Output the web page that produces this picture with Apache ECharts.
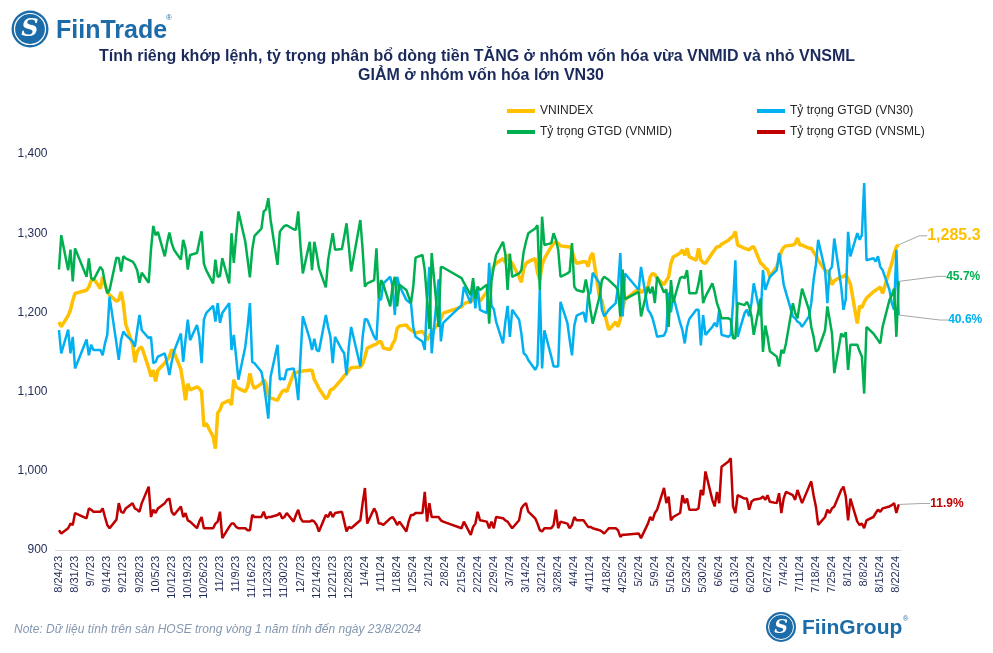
<!DOCTYPE html>
<html>
<head>
<meta charset="utf-8">
<script src="https://cdn.jsdelivr.net/npm/echarts@6/dist/echarts.min.js"></script>
<style>
html,body{margin:0;padding:0;background:#fff;}
#chart{width:993px;height:653px;}
</style>
</head>
<body>
<div id="chart"></div>
<script>
// ---- trading days (categories) ----
const dates = [
'2023-08-24','2023-08-25','2023-08-28','2023-08-29','2023-08-30','2023-08-31',
'2023-09-05','2023-09-06','2023-09-07','2023-09-08','2023-09-11','2023-09-12','2023-09-13','2023-09-14','2023-09-15','2023-09-18','2023-09-19','2023-09-20','2023-09-21','2023-09-22','2023-09-25','2023-09-26','2023-09-27','2023-09-28','2023-09-29',
'2023-10-02','2023-10-03','2023-10-04','2023-10-05','2023-10-06','2023-10-09','2023-10-10','2023-10-11','2023-10-12','2023-10-13','2023-10-16','2023-10-17','2023-10-18','2023-10-19','2023-10-20','2023-10-23','2023-10-24','2023-10-25','2023-10-26','2023-10-27','2023-10-30','2023-10-31',
'2023-11-01','2023-11-02','2023-11-03','2023-11-06','2023-11-07','2023-11-08','2023-11-09','2023-11-10','2023-11-13','2023-11-14','2023-11-15','2023-11-16','2023-11-17','2023-11-20','2023-11-21','2023-11-22','2023-11-23','2023-11-24','2023-11-27','2023-11-28','2023-11-29','2023-11-30',
'2023-12-01','2023-12-04','2023-12-05','2023-12-06','2023-12-07','2023-12-08','2023-12-11','2023-12-12','2023-12-13','2023-12-14','2023-12-15','2023-12-18','2023-12-19','2023-12-20','2023-12-21','2023-12-22','2023-12-25','2023-12-26','2023-12-27','2023-12-28','2023-12-29',
'2024-01-02','2024-01-03','2024-01-04','2024-01-05','2024-01-08','2024-01-09','2024-01-10','2024-01-11','2024-01-12','2024-01-15','2024-01-16','2024-01-17','2024-01-18','2024-01-19','2024-01-22','2024-01-23','2024-01-24','2024-01-25','2024-01-26','2024-01-29','2024-01-30','2024-01-31',
'2024-02-01','2024-02-02','2024-02-05','2024-02-06','2024-02-07','2024-02-15','2024-02-16','2024-02-19','2024-02-20','2024-02-21','2024-02-22','2024-02-23','2024-02-26','2024-02-27','2024-02-28','2024-02-29',
'2024-03-01','2024-03-04','2024-03-05','2024-03-06','2024-03-07','2024-03-08','2024-03-11','2024-03-12','2024-03-13','2024-03-14','2024-03-15','2024-03-18','2024-03-19','2024-03-20','2024-03-21','2024-03-22','2024-03-25','2024-03-26','2024-03-27','2024-03-28','2024-03-29',
'2024-04-01','2024-04-02','2024-04-03','2024-04-04','2024-04-05','2024-04-08','2024-04-09','2024-04-10','2024-04-11','2024-04-12','2024-04-15','2024-04-16','2024-04-17','2024-04-19','2024-04-22','2024-04-23','2024-04-24','2024-04-25','2024-04-26',
'2024-05-02','2024-05-03','2024-05-06','2024-05-07','2024-05-08','2024-05-09','2024-05-10','2024-05-13','2024-05-14','2024-05-15','2024-05-16','2024-05-17','2024-05-20','2024-05-21','2024-05-22','2024-05-23','2024-05-24','2024-05-27','2024-05-28','2024-05-29','2024-05-30','2024-05-31',
'2024-06-03','2024-06-04','2024-06-05','2024-06-06','2024-06-07','2024-06-10','2024-06-11','2024-06-12','2024-06-13','2024-06-14','2024-06-17','2024-06-18','2024-06-19','2024-06-20','2024-06-21','2024-06-24','2024-06-25','2024-06-26','2024-06-27','2024-06-28',
'2024-07-01','2024-07-02','2024-07-03','2024-07-04','2024-07-05','2024-07-08','2024-07-09','2024-07-10','2024-07-11','2024-07-12','2024-07-15','2024-07-16','2024-07-17','2024-07-18','2024-07-19','2024-07-22','2024-07-23','2024-07-24','2024-07-25','2024-07-26','2024-07-29','2024-07-30','2024-07-31',
'2024-08-01','2024-08-02','2024-08-05','2024-08-06','2024-08-07','2024-08-08','2024-08-09','2024-08-12','2024-08-13','2024-08-14','2024-08-15','2024-08-16','2024-08-19','2024-08-20','2024-08-21','2024-08-22','2024-08-23'
];

// ---- x-axis tick labels ----
const tickLabels = ['8/24/23','8/31/23','9/7/23','9/14/23','9/21/23','9/28/23','10/5/23','10/12/23','10/19/23','10/26/23','11/2/23','11/9/23','11/16/23','11/23/23','11/30/23','12/7/23','12/14/23','12/21/23','12/28/23','1/4/24','1/11/24','1/18/24','1/25/24','2/1/24','2/8/24','2/15/24','2/22/24','2/29/24','3/7/24','3/14/24','3/21/24','3/28/24','4/4/24','4/11/24','4/18/24','4/25/24','5/2/24','5/9/24','5/16/24','5/23/24','5/30/24','6/6/24','6/13/24','6/20/24','6/27/24','7/4/24','7/11/24','7/18/24','7/25/24','8/1/24','8/8/24','8/15/24','8/22/24'];

// ---- y-axis tick labels ----
const yTicks = [900, 1000, 1100, 1200, 1300, 1400];

// ---- series values ----
const vnindex = [
1188,1182,1196,1203,1215,1224,
1228,1232,1240,1243,1230,1245,1236,1226,1222,1214,1216,1226,1211,1185,1160,1137,1150,1155,1156,
1130,1119,1127,1113,1127,1136,1140,1144,1153,1150,1128,1110,1089,1110,1102,1106,1104,1100,1056,1060,1043,1028,
1073,1077,1085,1089,1083,1115,1106,1104,1100,1106,1123,1110,1104,1110,1115,1110,1094,1092,1089,1095,1100,1102,
1100,1123,1124,1125,1125,1126,1127,1127,1115,1110,1104,1091,1094,1102,1103,1106,1116,1120,1123,1127,1130,
1131,1135,1144,1155,1159,1160,1163,1163,1155,1153,1160,1165,1180,1183,1184,1180,1178,1176,1174,1176,1172,1165,
1170,1175,1186,1192,1199,1207,1211,1214,1216,1219,1220,1214,1226,1240,1253,1258,
1262,1268,1263,1273,1265,1262,1245,1238,1255,1262,1264,1268,1250,1241,1260,1268,1283,1287,1289,1287,1284,
1283,1283,1278,1268,1262,1264,1264,1258,1270,1275,1218,1215,1200,1178,1188,1182,1192,1205,1216,
1230,1225,1232,1245,1249,1248,1243,1235,1240,1245,1262,1270,1275,1279,1272,1281,1270,1266,1281,1266,1263,1262,
1275,1279,1283,1283,1286,1291,1294,1296,1302,1285,1281,1280,1279,1282,1283,1262,1260,1256,1254,1245,
1258,1265,1277,1282,1284,1285,1287,1294,1285,1285,1281,1281,1276,1272,1266,1253,1252,1245,1235,1240,1245,1245,1248,
1242,1236,1186,1208,1206,1213,1218,1226,1228,1230,1232,1224,1253,1262,1274,1283,1285.3
];
const vn30 = [
38.3,34.8,38.4,34.8,37.3,32.5,
36.9,34.5,36.1,35.3,35.3,34.5,36.3,37.6,43.4,36.3,33.8,36.8,38.1,37.6,36.6,35.8,38.3,40.6,38.3,
37.1,37.3,33.3,33.5,34.3,34.8,33.3,31.5,33.5,35.1,37.8,33.5,36.8,39.9,36.8,39.1,37.3,33.3,39.9,40.9,42.0,39.6,
42.4,39.4,40.9,42.4,35.3,37.6,34.3,30.8,35.8,38.8,42.4,33.5,33.3,32.0,30.3,27.7,24.9,31.3,36.1,30.8,31.0,30.8,
32.3,32.5,30.8,27.7,34.3,40.4,37.0,35.3,37.0,35.3,35.1,40.6,38.8,37.3,33.3,37.3,35.3,34.8,31.5,35.8,38.8,
32.8,37.3,40.0,39.9,37.3,36.8,43.1,42.9,45.4,46.4,44.9,40.6,46.4,45.0,42.9,42.6,42.4,38.8,37.3,36.6,35.3,42.6,
47.9,34.8,46.0,36.6,39.4,42.1,44.9,42.4,45.2,41.6,44.9,41.4,40.9,48.5,42.0,41.5,
39.6,36.3,39.5,42.0,37.3,41.4,39.9,37.8,34.8,34.5,33.8,32.3,33.0,44.4,32.5,38.3,34.3,32.8,32.8,32.8,42.6,
39.4,36.8,34.5,39.0,40.5,41.0,39.5,43.5,44.0,47.0,45.4,41.4,40.4,41.4,42.4,44.9,50.0,40.4,46.9,
44.4,47.9,41.4,40.9,40.1,38.8,37.3,37.5,38.3,44.0,41.0,43.5,39.4,38.3,36.3,38.8,40.0,41.4,41.4,36.0,40.6,37.6,
38.8,39.4,38.8,41.4,37.6,37.3,37.6,42.4,48.9,37.3,40.9,41.4,40.4,42.4,45.4,40.4,47.4,44.4,45.4,46.4,
47.4,50.0,47.9,45.2,44.0,40.4,40.1,39.6,39.4,38.8,40.4,42.4,45.9,48.2,52.0,47.4,42.4,47.4,47.9,52.2,44.9,41.4,43.0,
53.2,49.5,53.0,52.0,52.7,60.6,48.9,49.2,48.7,49.5,47.9,47.4,44.4,42.4,41.4,50.5,40.6
];
const vnmid = [
47.5,52.7,47.4,50.5,45.7,50.7,
46.4,49.2,46.2,45.9,47.9,47.4,45.4,43.9,44.4,49.3,49.2,47.2,49.5,49.2,48.7,48.2,47.4,45.5,47.0,
45.5,50.5,54.1,52.7,53.2,49.5,51.5,53.1,51.5,50.5,49.0,52.0,50.7,47.5,49.7,50.0,51.7,53.3,48.4,47.4,45.4,49.0,
46.4,46.5,49.2,45.4,53.0,48.5,52.5,56.3,51.7,49.0,46.3,50.5,52.6,53.7,56.3,56.6,58.3,55.0,48.2,53.2,53.7,54.1,
54.2,53.6,53.5,56.3,51.0,46.9,51.7,47.4,51.7,49.9,47.7,44.8,48.9,51.0,53.0,50.5,50.6,52.5,54.5,51.0,47.2,
55.0,50.5,44.9,45.4,45.9,50.7,43.1,45.9,45.2,41.9,45.0,46.4,41.9,45.2,44.4,43.4,42.4,44.9,49.3,49.7,47.4,42.9,
38.5,50.0,38.8,47.9,47.8,46.2,45.5,43.6,46.2,43.1,44.9,44.4,45.2,39.3,45.7,47.9,
49.7,51.7,49.9,44.4,49.9,46.4,46.9,47.4,50.2,51.7,53.0,53.7,54.2,44.4,55.5,51.2,51.5,53.0,52.0,50.5,46.4,
46.9,47.2,51.5,44.9,44.4,44.1,46.0,44.1,41.4,39.3,43.4,45.9,46.4,45.9,44.9,44.4,40.4,47.5,43.0,
44.1,40.4,44.9,43.9,44.9,42.4,46.4,44.0,44.5,38.8,45.9,42.5,46.2,46.4,46.2,47.4,43.9,43.9,45.4,47.4,42.4,43.4,
45.4,44.1,42.4,41.4,40.1,40.1,39.9,37.1,37.1,42.4,42.1,42.6,41.9,40.4,37.6,43.1,35.0,39.0,37.3,35.1,
34.3,32.8,35.3,34.8,36.3,42.4,40.9,40.1,42.4,44.6,41.4,38.8,37.3,35.1,35.3,38.3,41.9,39.9,37.8,31.8,37.8,37.3,38.0,
32.3,36.1,36.1,35.1,34.3,28.7,38.8,37.8,37.3,36.8,36.3,38.8,42.9,43.6,44.6,37.3,45.7
];
const vnsml = [
8.0,7.5,8.3,9.0,8.8,10.6,
9.8,11.3,11.1,10.8,10.8,11.3,10.0,8.8,8.3,9.6,12.1,10.8,10.6,11.3,12.1,11.3,11.1,10.8,12.1,
14.6,10.0,11.1,10.6,11.3,12.1,12.6,12.8,10.8,10.3,11.6,10.0,10.6,9.5,9.3,8.3,9.3,10.0,8.3,8.3,8.3,9.0,
9.3,10.8,6.8,8.5,9.0,9.0,8.5,8.3,8.3,8.0,8.0,10.3,10.0,10.0,10.8,9.8,10.0,10.0,10.3,10.6,9.8,10.0,
10.6,9.3,10.3,11.1,9.8,9.3,9.3,9.5,9.3,8.8,7.8,10.3,10.0,10.8,10.0,10.6,10.8,9.3,7.8,8.5,8.3,
9.5,12.1,14.4,9.0,11.3,10.6,9.0,9.0,8.8,9.8,10.0,9.5,8.8,9.3,7.8,9.3,10.3,10.3,10.6,10.6,13.8,9.3,
12.1,10.0,10.0,9.5,9.3,8.3,9.3,7.3,8.5,9.0,10.8,9.5,9.3,8.3,9.3,8.3,
10.0,9.8,9.5,9.3,8.8,8.3,9.5,11.3,11.8,12.1,10.8,9.8,9.0,8.0,7.8,8.3,8.3,8.8,11.1,8.3,9.3,
9.0,8.3,8.8,10.0,9.5,9.5,9.0,8.5,8.5,8.3,8.0,7.8,7.5,8.3,8.3,8.0,7.0,7.3,7.3,
7.5,6.8,9.0,10.0,9.5,10.6,11.1,14.4,12.1,13.1,9.5,10.0,10.6,13.3,12.1,12.8,11.1,11.1,11.3,14.1,13.3,16.9,
12.6,11.6,13.8,12.1,17.6,18.4,18.9,11.6,10.6,13.3,12.8,12.8,11.1,12.3,12.6,12.8,13.1,12.6,13.3,12.3,
12.1,13.6,10.6,12.8,13.8,13.3,12.6,14.1,13.1,12.1,14.6,15.4,13.3,11.6,8.8,10.0,11.1,10.6,11.3,11.6,14.1,14.6,13.1,
9.5,12.8,9.3,8.8,9.0,8.3,9.5,10.0,10.6,11.1,10.8,11.3,11.6,11.8,12.1,10.6,11.9
];

const seriesNames = ['VNINDEX', 'Tỷ trọng GTGD (VN30)', 'Tỷ trọng GTGD (VNMID)', 'Tỷ trọng GTGD (VNSML)'];
const colors = ['#FFC000', '#00B0F0', '#00B050', '#C00000'];

// ---- helpers ----
const DAY = 86400000;
const BASE = Date.UTC(2023, 7, 24);
function isoToDay(s) { const p = s.split('-').map(Number); return Math.round((Date.UTC(p[0], p[1] - 1, p[2]) - BASE) / DAY); }
function mdyToDay(s) { const p = s.split('/').map(Number); return Math.round((Date.UTC(2000 + p[2], p[0] - 1, p[1]) - BASE) / DAY); }
const xs = dates.map(isoToDay);
const tickPos = tickLabels.map(mdyToDay);
const labelAt = {};
tickPos.forEach((p, i) => { labelAt[p] = tickLabels[i]; });

const FONT = 'Arial, "Liberation Sans", sans-serif';

function build(vals, labelOpt) {
  return vals.map((v, i) => {
    const pt = [xs[i], v];
    if (i === vals.length - 1) {
      return { value: pt, symbol: 'circle', symbolSize: 1, label: Object.assign({ show: true, position: 'right', distance: 0, fontFamily: FONT, fontWeight: 'bold' }, labelOpt), labelLine: { show: true } };
    }
    return pt;
  });
}

function fmtNum(v) { return Number(v).toLocaleString('en-US', { minimumFractionDigits: 1, maximumFractionDigits: 1 }); }

const chart = echarts.init(document.getElementById('chart'), null, { renderer: 'canvas' });

const labelLineStyle = { lineStyle: { color: '#A6A6A6', width: 1 }, length2: 8 };

chart.setOption({
  animation: false,
  backgroundColor: '#ffffff',
  legend: [
    { data: [seriesNames[0], seriesNames[2]], orient: 'vertical', left: 502, top: 100, icon: 'rect', itemWidth: 28, itemHeight: 4, itemGap: 9,
      textStyle: { fontFamily: FONT, fontSize: 12, color: '#262626' } },
    { data: [seriesNames[1], seriesNames[3]], orient: 'vertical', left: 752, top: 100, icon: 'rect', itemWidth: 28, itemHeight: 4, itemGap: 9,
      textStyle: { fontFamily: FONT, fontSize: 12, color: '#262626' } }
  ],
  grid: { left: 55.5, right: 92, top: 154, bottom: 103, containLabel: false },
  xAxis: {
    type: 'value', min: -1.5, max: 366,
    axisLine: { show: true, lineStyle: { color: '#D9D9D9', width: 1 } },
    axisTick: { show: false },
    splitLine: { show: false },
    axisLabel: {
      customValues: tickPos,
      rotate: 90, fontFamily: FONT, fontSize: 11, color: '#1F2A55', margin: 6,
      formatter: v => labelAt[Math.round(v)] || ''
    }
  },
  yAxis: [
    { type: 'value', min: yTicks[0], max: yTicks[yTicks.length - 1], interval: 100,
      axisLine: { show: false }, axisTick: { show: false }, splitLine: { show: false },
      axisLabel: { fontFamily: FONT, fontSize: 12, color: '#1F2A55', margin: 8, formatter: v => Number(v).toLocaleString('en-US') } },
    { type: 'value', min: 5, max: 65, show: false }
  ],
  series: [
    { name: seriesNames[0], type: 'line', yAxisIndex: 0, symbol: 'none', z: 2,
      lineStyle: { color: colors[0], width: 3.5 }, itemStyle: { color: colors[0] },
      labelLine: labelLineStyle, labelLayout: { dx: 28, dy: -9 },
      data: build(vnindex, { fontSize: 16, color: colors[0], formatter: p => fmtNum(p.value[1]) }) },
    { name: seriesNames[1], type: 'line', yAxisIndex: 1, symbol: 'none', z: 3,
      lineStyle: { color: colors[1], width: 2.5 }, itemStyle: { color: colors[1] },
      labelLine: labelLineStyle, labelLayout: { dx: 49, dy: 5 },
      data: build(vn30, { fontSize: 12, color: colors[1], formatter: p => p.value[1].toFixed(1) + '%' }) },
    { name: seriesNames[2], type: 'line', yAxisIndex: 1, symbol: 'none', z: 4,
      lineStyle: { color: colors[2], width: 2.5 }, itemStyle: { color: colors[2] },
      labelLine: labelLineStyle, labelLayout: { dx: 47, dy: -5 },
      data: build(vnmid, { fontSize: 12, color: colors[2], formatter: p => p.value[1].toFixed(1) + '%' }) },
    { name: seriesNames[3], type: 'line', yAxisIndex: 1, symbol: 'none', z: 5,
      lineStyle: { color: colors[3], width: 2.5 }, itemStyle: { color: colors[3] },
      labelLine: labelLineStyle, labelLayout: { dx: 31, dy: -1 },
      data: build(vnsml, { fontSize: 12, color: colors[3], formatter: p => p.value[1].toFixed(1) + '%' }) }
  ],
  graphic: [
    // title (two lines, upright bold)
    { type: 'text', style: { x: 477, y: 57, text: 'Tính riêng khớp lệnh, tỷ trọng phân bổ dòng tiền TĂNG ở nhóm vốn hóa vừa VNMID và nhỏ VNSML', align: 'center', verticalAlign: 'middle', font: 'normal normal bold 16px Arial, "Liberation Sans", sans-serif', fill: '#1B2A5C' } },
    { type: 'text', style: { x: 481, y: 76, text: 'GIẢM ở nhóm vốn hóa lớn VN30', align: 'center', verticalAlign: 'middle', font: 'normal normal bold 16px Arial, "Liberation Sans", sans-serif', fill: '#1B2A5C' } },
    // FiinTrade logo
    { type: 'circle', shape: { cx: 30, cy: 29, r: 18.5 }, style: { fill: '#1B6CA8' } },
    { type: 'circle', shape: { cx: 30, cy: 29, r: 15.5 }, style: { fill: 'none', stroke: '#ffffff', lineWidth: 1.2 } },
    { type: 'text', style: { x: 30, y: 30, text: 'S', align: 'center', verticalAlign: 'middle', font: 'bold italic 24px "DejaVu Serif", serif', fill: '#ffffff' } },
    { type: 'text', style: { x: 56, y: 31, text: 'FiinTrade', verticalAlign: 'middle', font: 'bold 25px Arial, "Liberation Sans", sans-serif', fill: '#1B6CA8' } },
    { type: 'text', style: { x: 166, y: 18, text: '®', verticalAlign: 'middle', font: '8px Arial, "Liberation Sans", sans-serif', fill: '#1B6CA8' } },
    // FiinGroup logo
    { type: 'circle', shape: { cx: 781, cy: 627, r: 15 }, style: { fill: '#1B6CA8' } },
    { type: 'circle', shape: { cx: 781, cy: 627, r: 12.5 }, style: { fill: 'none', stroke: '#ffffff', lineWidth: 1 } },
    { type: 'text', style: { x: 781, y: 628, text: 'S', align: 'center', verticalAlign: 'middle', font: 'bold italic 19px "DejaVu Serif", serif', fill: '#ffffff' } },
    { type: 'text', style: { x: 802, y: 628, text: 'FiinGroup', verticalAlign: 'middle', font: 'bold 21px Arial, "Liberation Sans", sans-serif', fill: '#1B6CA8' } },
    { type: 'text', style: { x: 903, y: 619, text: '®', verticalAlign: 'middle', font: '7px Arial, "Liberation Sans", sans-serif', fill: '#1B6CA8' } },
    // footnote
    { type: 'text', style: { x: 14, y: 630, text: 'Note: Dữ liệu tính trên sàn HOSE trong vòng 1 năm tính đến ngày 23/8/2024', verticalAlign: 'middle', font: 'italic 12px Arial, "Liberation Sans", sans-serif', fill: '#8497B0' } }
  ]
});
</script>
</body>
</html>
